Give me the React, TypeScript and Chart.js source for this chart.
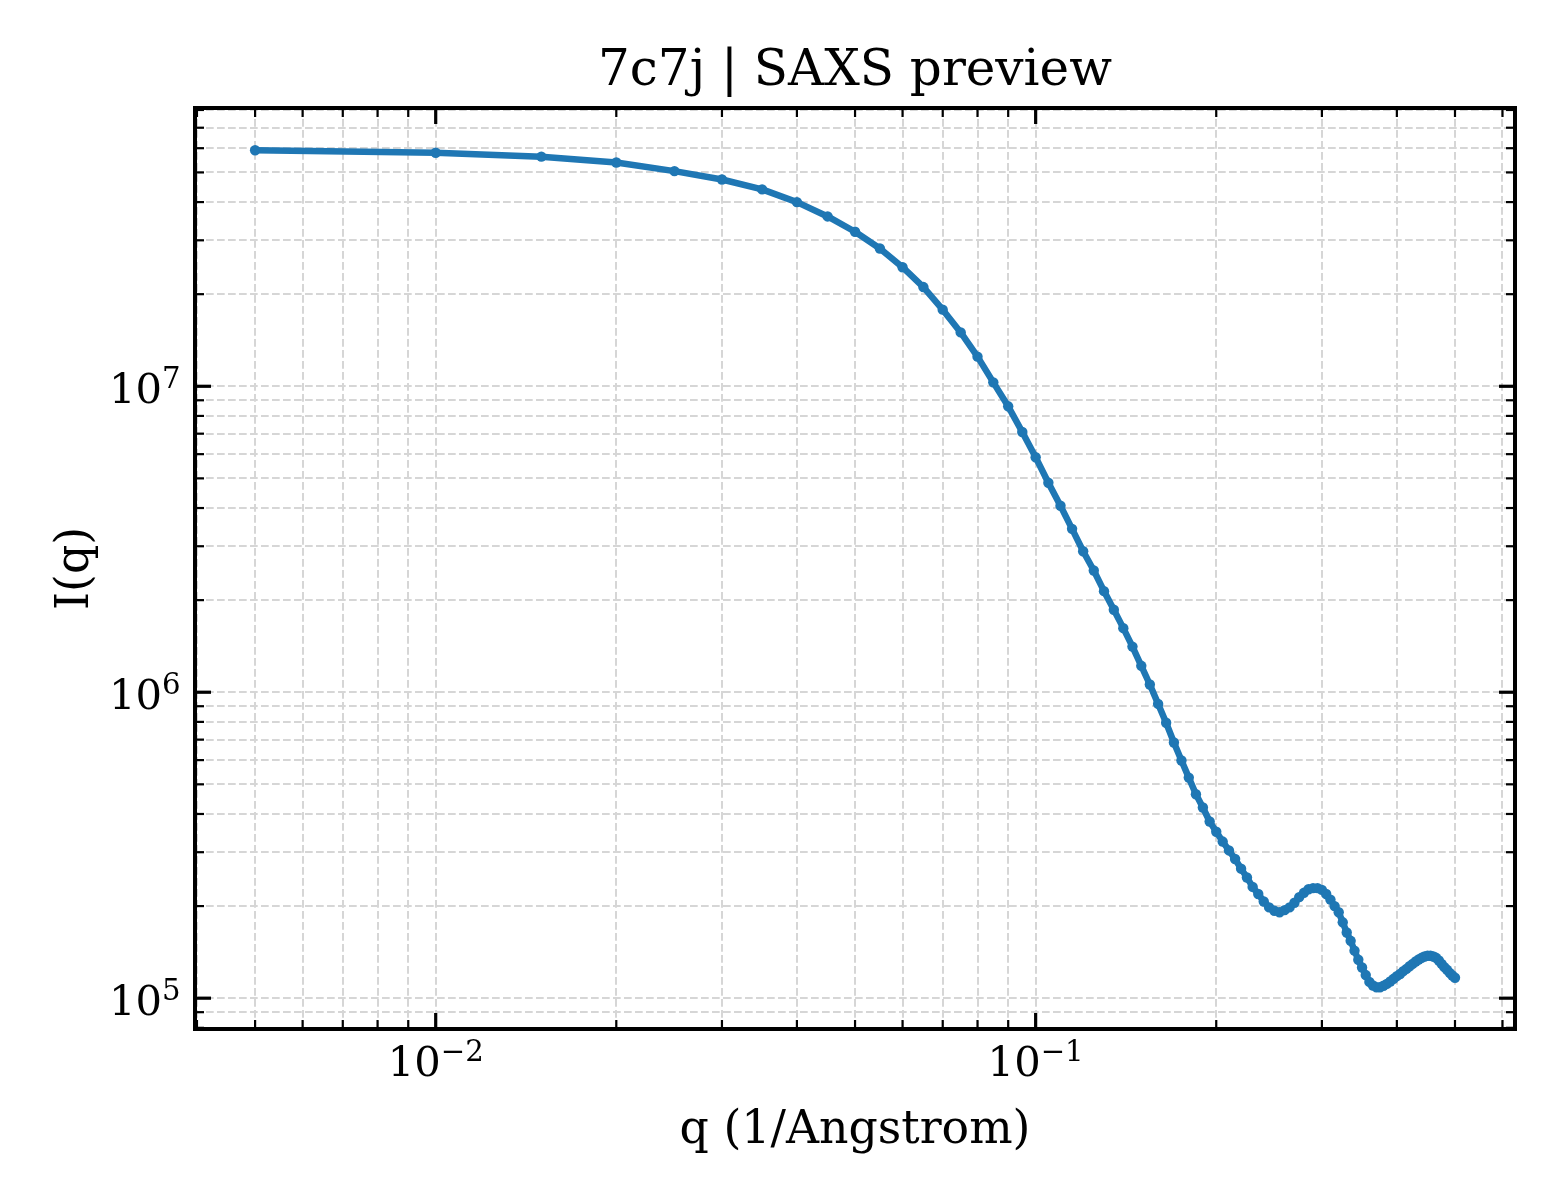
import { useEffect, useRef } from "react";
import { Chart, registerables } from "chart.js";

Chart.register(...registerables);

// q values (1/Angstrom)
const q = [
  0.005, 0.01, 0.015, 0.02, 0.025, 0.03, 0.035, 0.04, 0.045, 0.05,
  0.055, 0.06, 0.065, 0.07, 0.075, 0.08, 0.085, 0.09, 0.095, 0.1,
  0.105, 0.11, 0.115, 0.12, 0.125, 0.13, 0.135, 0.14, 0.145, 0.15,
  0.155, 0.16, 0.165, 0.17, 0.175, 0.18, 0.185, 0.19, 0.195, 0.2,
  0.205, 0.21, 0.215, 0.22, 0.225, 0.23, 0.235, 0.24, 0.245, 0.25,
  0.255, 0.26, 0.265, 0.27, 0.275, 0.28, 0.285, 0.29, 0.295, 0.3,
  0.305, 0.31, 0.315, 0.32, 0.325, 0.33, 0.335, 0.34, 0.345, 0.35,
  0.355, 0.36, 0.365, 0.37, 0.375, 0.38, 0.385, 0.39, 0.395, 0.4,
  0.405, 0.41, 0.415, 0.42, 0.425, 0.43, 0.435, 0.44, 0.445, 0.45,
  0.455, 0.46, 0.465, 0.47, 0.475, 0.48, 0.485, 0.49, 0.495, 0.5,
];

// I(q)
const intensity = [
  5.91e7, 5.8e7, 5.63e7, 5.39e7, 5.05e7, 4.74e7, 4.4e7, 4.0e7, 3.59e7, 3.2e7,
  2.82e7, 2.45e7, 2.11e7, 1.78e7, 1.5e7, 1.25e7, 1.03e7, 8.6e6, 7.09e6, 5.86e6,
  4.84e6, 4.07e6, 3.42e6, 2.89e6, 2.5e6, 2.14e6, 1.86e6, 1.62e6, 1.41e6, 1.22e6,
  1.06e6, 9.16e5, 7.95e5, 6.85e5, 5.98e5, 5.26e5, 4.64e5, 4.2e5, 3.78e5, 3.5e5,
  3.25e5, 3.04e5, 2.85e5, 2.65e5, 2.48e5, 2.31e5, 2.19e5, 2.07e5, 1.98e5, 1.93e5,
  1.91e5, 1.94e5, 1.98e5, 2.05e5, 2.14e5, 2.21e5, 2.27e5, 2.29e5, 2.29e5, 2.26e5,
  2.19e5, 2.1e5, 2.0e5, 1.91e5, 1.77e5, 1.64e5, 1.54e5, 1.43e5, 1.335e5, 1.26e5,
  1.19e5, 1.13e5, 1.1e5, 1.086e5, 1.086e5, 1.098e5, 1.114e5, 1.134e5, 1.157e5, 1.18e5,
  1.2e5, 1.226e5, 1.247e5, 1.272e5, 1.295e5, 1.318e5, 1.338e5, 1.355e5, 1.369e5, 1.376e5,
  1.376e5, 1.369e5, 1.355e5, 1.328e5, 1.295e5, 1.263e5, 1.238e5, 1.21e5, 1.186e5, 1.166e5,
];

// axis limits
const xMin = 0.00397;
const xMax = 0.6295;
const yMin = 7.93e4;
const yMax = 8.12e7;

// ticks
const xMajorTicks = [0.01, 0.1];
const xMajorExps = ["\u22122", "\u22121"];
const xMinorTicks = [
  0.004, 0.005, 0.006, 0.007, 0.008, 0.009,
  0.02, 0.03, 0.04, 0.05, 0.06, 0.07, 0.08, 0.09,
  0.2, 0.3, 0.4, 0.5, 0.6,
];
const yMajorTicks = [1e5, 1e6, 1e7];
const yMajorExps = ["5", "6", "7"];
const yMinorTicks = [
  8e4, 9e4,
  2e5, 3e5, 4e5, 5e5, 6e5, 7e5, 8e5, 9e5,
  2e6, 3e6, 4e6, 5e6, 6e6, 7e6, 8e6, 9e6,
  2e7, 3e7, 4e7, 5e7, 6e7, 7e7, 8e7,
];

const title = "7c7j | SAXS preview";
const xTitle = "q (1/Angstrom)";
const yTitle = "I(q)";

const FONT = "'DejaVu Serif'";
const lineColor = "#1f77b4";
const gridColor = "#d6d6d6";

const axesDecor = {
  id: "axesDecor",
  afterDraw(chart: any) {
    const { ctx, chartArea: a, scales } = chart;
    const xs = scales.x;
    const ys = scales.y;
    ctx.save();
    ctx.strokeStyle = "#000";
    ctx.fillStyle = "#000";

    const seg = (x1: number, y1: number, x2: number, y2: number, w: number) => {
      ctx.lineWidth = w;
      ctx.beginPath();
      ctx.moveTo(x1, y1);
      ctx.lineTo(x2, y2);
      ctx.stroke();
    };

    // inward ticks on all four sides
    xMinorTicks.forEach((v) => {
      const px = xs.getPixelForValue(v);
      seg(px, a.bottom, px, a.bottom - 9, 2.2);
      seg(px, a.top, px, a.top + 9, 2.2);
    });
    xMajorTicks.forEach((v) => {
      const px = xs.getPixelForValue(v);
      seg(px, a.bottom, px, a.bottom - 16, 3.2);
      seg(px, a.top, px, a.top + 16, 3.2);
    });
    yMinorTicks.forEach((v) => {
      const py = ys.getPixelForValue(v);
      seg(a.left, py, a.left + 9, py, 2.2);
      seg(a.right, py, a.right - 9, py, 2.2);
    });
    yMajorTicks.forEach((v) => {
      const py = ys.getPixelForValue(v);
      seg(a.left, py, a.left + 16, py, 3.2);
      seg(a.right, py, a.right - 16, py, 3.2);
    });

    // frame
    ctx.lineWidth = 4;
    ctx.strokeRect(a.left, a.top, a.right - a.left, a.bottom - a.top);

    // 10^n tick labels
    const baseFont = `41.7px ${FONT}`;
    const supFont = `29.2px ${FONT}`;
    const drawPow = (exp: string, x: number, baseline: number, align: string) => {
      ctx.font = baseFont;
      const bw = ctx.measureText("10").width;
      ctx.font = supFont;
      const ew = ctx.measureText(exp).width;
      const left = align === "center" ? x - (bw + ew) / 2 : x - (bw + ew);
      ctx.textAlign = "left";
      ctx.textBaseline = "alphabetic";
      ctx.font = baseFont;
      ctx.fillText("10", left, baseline);
      ctx.font = supFont;
      ctx.fillText(exp, left + bw, baseline - 15);
    };
    xMajorTicks.forEach((v, i) => {
      drawPow(xMajorExps[i], xs.getPixelForValue(v), a.bottom + 47, "center");
    });
    yMajorTicks.forEach((v, i) => {
      drawPow(yMajorExps[i], a.left - 14.5, ys.getPixelForValue(v) + 16.5, "right");
    });

    // titles
    const cx = (a.left + a.right) / 2;
    const cy = (a.top + a.bottom) / 2;
    ctx.textAlign = "center";
    ctx.textBaseline = "alphabetic";
    ctx.font = `50px ${FONT}`;
    ctx.fillText(title, cx, 85);
    ctx.font = `45.8px ${FONT}`;
    ctx.fillText(xTitle, cx, 1143);
    ctx.translate(88, cy);
    ctx.rotate(-Math.PI / 2);
    ctx.fillText(yTitle, 0, 0);

    ctx.restore();
  },
};

export default function App() {
  const canvasRef = useRef<HTMLCanvasElement | null>(null);

  useEffect(() => {
    document.body.style.margin = "0";
    if (!canvasRef.current) return;

    const chart = new Chart(canvasRef.current, {
      type: "line",
      data: {
        datasets: [
          {
            data: q.map((x, i) => ({ x, y: intensity[i] })),
            borderColor: lineColor,
            backgroundColor: lineColor,
            borderWidth: 6.5,
            borderJoinStyle: "round",
            borderCapStyle: "round",
            pointRadius: 5.2,
            pointBorderWidth: 0,
            pointBackgroundColor: lineColor,
            tension: 0,
          },
        ],
      },
      options: {
        animation: false,
        responsive: false,
        devicePixelRatio: 1,
        layout: { padding: { left: 195, right: 45, top: 108, bottom: 171 } },
        plugins: {
          legend: { display: false },
          tooltip: { enabled: false },
          title: { display: false },
        },
        scales: {
          x: {
            type: "logarithmic",
            min: xMin,
            max: xMax,
            bounds: "data",
            afterBuildTicks: (s: any) => {
              s.ticks = [...xMinorTicks, ...xMajorTicks]
                .sort((p, r) => p - r)
                .map((value) => ({ value }));
            },
            ticks: { display: false },
            grid: { color: gridColor, lineWidth: 2, drawTicks: false },
            border: { display: false, dash: [7.7, 3.3] },
          },
          y: {
            type: "logarithmic",
            min: yMin,
            max: yMax,
            bounds: "data",
            afterBuildTicks: (s: any) => {
              s.ticks = [...yMinorTicks, ...yMajorTicks]
                .sort((p, r) => p - r)
                .map((value) => ({ value }));
            },
            ticks: { display: false },
            grid: { color: gridColor, lineWidth: 2, drawTicks: false },
            border: { display: false, dash: [7.7, 3.3] },
          },
        },
      },
      plugins: [axesDecor],
    });

    return () => chart.destroy();
  }, []);

  return (
    <div style={{ width: 1560, height: 1200, background: "#fff" }}>
      <canvas ref={canvasRef} width={1560} height={1200} style={{ display: "block" }} />
    </div>
  );
}
